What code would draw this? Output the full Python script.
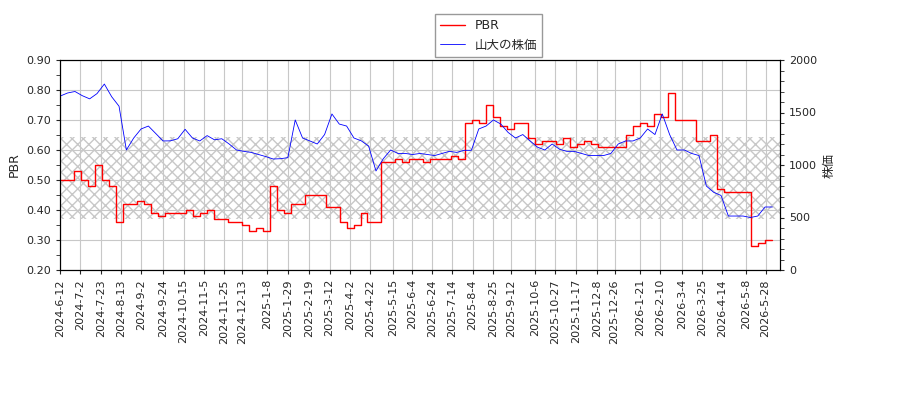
import numpy as np, pandas as pd, matplotlib
matplotlib.use("Agg")
import matplotlib.pyplot as plt, seaborn as sns

sns.set_style("white")
plt.rcParams['font.family'] = ['DejaVu Sans', 'Noto Sans CJK JP']

start, end = "2024-06-12", "2026-06-04"
price = [1657,1686,1700,1660,1630,1680,1771,1650,1560,1143,1257,1343,1371,1300,1229,1230,1250,1340,1257,1229,1280,1240,1250,1200,1143,1130,1120,1100,1080,1057,1060,1070,1429,1257,1229,1200,1290,1486,1390,1371,1257,1230,1180,943,1060,1143,1110,1110,1100,1110,1100,1090,1110,1130,1120,1140,1140,1343,1371,1429,1390,1310,1257,1290,1229,1170,1143,1200,1150,1130,1130,1110,1090,1090,1090,1110,1200,1229,1229,1257,1343,1290,1486,1290,1143,1143,1110,1090,800,740,710,514,514,514,500,514,600,600]
pbr = [0.50,0.50,0.53,0.50,0.48,0.55,0.50,0.48,0.36,0.42,0.42,0.43,0.42,0.39,0.38,0.39,0.39,0.39,0.40,0.38,0.39,0.40,0.37,0.37,0.36,0.36,0.35,0.33,0.34,0.33,0.48,0.40,0.39,0.42,0.42,0.45,0.45,0.45,0.41,0.41,0.36,0.34,0.35,0.39,0.36,0.36,0.56,0.56,0.57,0.56,0.57,0.57,0.56,0.57,0.57,0.57,0.58,0.57,0.69,0.70,0.69,0.75,0.71,0.68,0.67,0.69,0.69,0.64,0.62,0.63,0.63,0.62,0.64,0.61,0.62,0.63,0.62,0.61,0.61,0.61,0.61,0.65,0.68,0.69,0.68,0.72,0.71,0.79,0.70,0.70,0.70,0.63,0.63,0.65,0.47,0.46,0.46,0.46,0.46,0.28,0.29,0.30,0.30]
tick_labels = ["2024-6-12","2024-7-2","2024-7-23","2024-8-13","2024-9-2","2024-9-24","2024-10-15","2024-11-5","2024-11-25","2024-12-13","2025-1-8","2025-1-29","2025-2-19","2025-3-12","2025-4-2","2025-4-22","2025-5-15","2025-6-4","2025-6-24","2025-7-14","2025-8-4","2025-8-25","2025-9-12","2025-10-6","2025-10-27","2025-11-17","2025-12-8","2025-12-26","2026-1-21","2026-2-10","2026-3-4","2026-3-25","2026-4-14","2026-5-8","2026-5-28"]

t0, t1 = pd.Timestamp(start), pd.Timestamp(end)
def dates(n): return pd.to_datetime(np.linspace(t0.value, t1.value, n))
dfp = pd.DataFrame({"d": dates(len(pbr)), "v": pbr})
dfs = pd.DataFrame({"d": dates(len(price)), "v": price})

fig, ax = plt.subplots(figsize=(9, 4), dpi=100)
fig.subplots_adjust(left=0.067, right=0.867, top=0.85, bottom=0.325)
ax.axhspan(0.37, 0.645, facecolor='none', hatch='xxx', edgecolor='#c8c8c8', linewidth=0)
sns.lineplot(data=dfp, x="d", y="v", ax=ax, color="red", lw=1, drawstyle="steps-post", label="PBR", legend=False)
ax2 = ax.twinx()
sns.lineplot(data=dfs, x="d", y="v", ax=ax2, color="blue", lw=0.6, label="山大の株価", legend=False)
ax.set_ylim(0.2, 0.9); ax2.set_ylim(0, 2000)
ax.set_xlim(t0, t1 + pd.Timedelta(days=8))
ax.set_yticks(np.arange(0.2, 0.91, 0.1)); ax.set_yticklabels([f"{v:.2f}" for v in np.arange(0.2, 0.91, 0.1)])
ax.set_yticks(np.arange(0.2, 0.9, 0.05), minor=True)
ax2.set_yticks([0, 500, 1000, 1500, 2000])
ax2.set_yticks(np.arange(0, 2000, 100), minor=True)
ax.set_xticks(pd.to_datetime(tick_labels)); ax.set_xticklabels(tick_labels, rotation=90)
ax.grid(True, color="#c8c8c8", lw=0.8)
ax.set_xlabel(""); ax.set_ylabel("PBR", fontsize=9); ax2.set_xlabel(""); ax2.set_ylabel("株価", fontsize=9)
for a in (ax, ax2):
    a.tick_params(which="both", direction="out", length=3, labelsize=8, left=(a is ax), right=(a is ax2), bottom=True)
    for s in a.spines.values(): s.set_color("black")
h1, l1 = ax.get_legend_handles_labels(); h2, l2 = ax2.get_legend_handles_labels()
fig.legend(h1 + h2, l1 + l2, loc="upper center", bbox_to_anchor=(0.543, 0.98), fontsize=9, fancybox=False, edgecolor="gray")
fig.savefig("out.png")
